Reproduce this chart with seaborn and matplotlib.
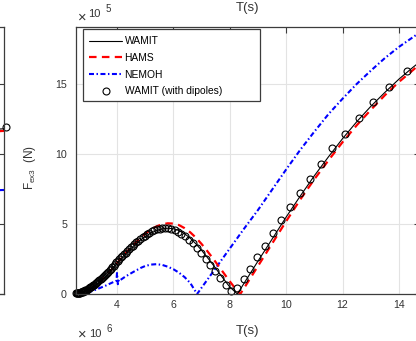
import numpy as np
import pandas as pd
import matplotlib
matplotlib.use("Agg")
import matplotlib.pyplot as plt
import seaborn as sns
from matplotlib.lines import Line2D
from matplotlib.patches import Rectangle

# ---------------- data (force in units of 1e5 N, period T in s) ----------------
T_wamit = [2.55, 2.7, 2.85, 3.0, 3.2, 3.4, 3.6, 3.8, 4.0, 4.2, 4.4, 4.6, 4.8, 5.0, 5.2, 5.4, 5.6, 5.8,
           6.0, 6.2, 6.4, 6.6, 6.8, 7.0, 7.2, 7.4, 7.6, 7.8, 8.0, 8.27, 8.5, 8.75, 9.0, 9.5, 10.0,
           10.5, 11.0, 11.5, 12.0, 12.5, 13.0, 13.5, 14.0, 14.5, 14.75]
F_wamit = [0.02, 0.06, 0.15, 0.3, 0.55, 0.87, 1.25, 1.7, 2.2, 2.65, 3.05, 3.45, 3.8, 4.1, 4.35, 4.53, 4.65, 4.7,
           4.66, 4.53, 4.3, 3.98, 3.58, 3.12, 2.62, 2.1, 1.56, 1.02, 0.5, 0.0, 0.75, 1.55, 2.35, 3.92, 5.5,
           7.0, 8.45, 9.8, 11.1, 12.3, 13.4, 14.4, 15.35, 16.2, 16.6]

T_hams = [2.55, 2.7, 2.85, 3.0, 3.2, 3.4, 3.6, 3.8, 4.0, 4.2, 4.4, 4.6, 4.8, 5.0, 5.2, 5.4, 5.6, 5.8,
          6.0, 6.2, 6.4, 6.6, 6.8, 7.0, 7.2, 7.4, 7.6, 7.8, 8.0, 8.2, 8.37, 8.5, 8.75, 9.0, 9.5, 10.0,
          10.5, 11.0, 11.5, 12.0, 12.5, 13.0, 13.5, 14.0, 14.5, 14.75]
F_hams = [0.02, 0.06, 0.15, 0.3, 0.55, 0.88, 1.27, 1.73, 2.2, 2.68, 3.12, 3.55, 3.95, 4.3, 4.6, 4.83, 4.98, 5.05,
          5.03, 4.92, 4.7, 4.4, 4.02, 3.57, 3.07, 2.55, 2.0, 1.45, 0.9, 0.38, 0.0, 0.4, 1.2, 2.0, 3.6, 5.2,
          6.75, 8.2, 9.55, 10.85, 12.05, 13.15, 14.2, 15.15, 16.0, 16.45]

T_nemoh = [2.55, 2.8, 3.0, 3.3, 3.6, 3.9, 3.98, 4.0, 4.03, 4.07, 4.12, 4.3, 4.6, 4.85, 5.0, 5.2, 5.4, 5.6,
           5.8, 6.0, 6.2, 6.4, 6.6, 6.84, 7.0, 7.5, 8.0, 8.5, 9.0, 9.5, 10.0, 10.5, 11.0, 11.5, 12.0,
           12.5, 13.0, 13.5, 14.0, 14.5, 14.75]
F_nemoh = [0.0, 0.03, 0.12, 0.35, 0.6, 0.88, 0.95, 1.5, 0.7, 1.05, 1.0, 1.25, 1.6, 1.87, 2.0, 2.1, 2.13, 2.08,
           1.95, 1.77, 1.52, 1.2, 0.78, 0.0, 0.45, 1.85, 3.25, 4.65, 6.0, 7.45, 8.9, 10.3, 11.6, 12.85, 13.95,
           15.0, 15.95, 16.85, 17.65, 18.35, 18.7]

T_dip = [14.280, 13.659, 13.090, 12.566, 12.083, 11.636, 11.220, 10.833, 10.472, 10.134, 9.817, 9.520,
         9.240, 8.976, 8.727, 8.491, 8.267, 8.055, 7.854, 7.662, 7.480, 7.306, 7.140, 6.981, 6.830, 6.684,
         6.545, 6.411, 6.283, 6.160, 6.042, 5.928, 5.818, 5.712, 5.610, 5.512, 5.417, 5.325, 5.236, 5.150,
         5.067, 4.987, 4.909, 4.833, 4.760, 4.689, 4.620, 4.553, 4.488, 4.425, 4.363, 4.303, 4.245, 4.189,
         4.134, 4.080, 4.028, 3.977, 3.927, 3.879, 3.831, 3.785, 3.740, 3.696, 3.653, 3.611, 3.570, 3.530,
         3.491, 3.452, 3.415, 3.378, 3.342, 3.307, 3.272, 3.239, 3.206, 3.173, 3.142, 3.111, 3.080, 3.050,
         3.021, 2.992, 2.964, 2.936, 2.909, 2.882, 2.856, 2.830, 2.805, 2.780, 2.756, 2.732, 2.708, 2.685,
         2.662, 2.640, 2.618, 2.596, 2.575, 2.554]
F_dip = [15.95, 14.8, 13.7, 12.6, 11.45, 10.4, 9.3, 8.2, 7.2, 6.2, 5.25, 4.33,
         3.45, 2.62, 1.82, 1.04, 0.4, 0.2, 0.62, 1.12, 1.61, 2.08, 2.52, 2.92, 3.28, 3.61,
         3.89, 4.12, 4.32, 4.46, 4.57, 4.63, 4.68, 4.70, 4.69, 4.66, 4.62, 4.56, 4.48, 4.39,
         4.28, 4.17, 4.05, 3.93, 3.81, 3.69, 3.57, 3.45, 3.33, 3.20, 3.08, 2.96, 2.85, 2.74,
         2.62, 2.50, 2.38, 2.26, 2.14, 2.02, 1.91, 1.80, 1.70, 1.60, 1.50, 1.41, 1.33, 1.25,
         1.18, 1.11, 1.04, 0.98, 0.92, 0.86, 0.80, 0.75, 0.70, 0.65, 0.61, 0.57, 0.53, 0.49,
         0.45, 0.41, 0.36, 0.32, 0.29, 0.26, 0.23, 0.20, 0.18, 0.16, 0.14, 0.125, 0.11, 0.095,
         0.085, 0.075, 0.065, 0.06, 0.055, 0.05]

# right end of the neighbouring (left) panel
T_left = [14.3, 14.745]
F_left_wamit = [11.75, 11.8]
F_left_hams = [11.6, 11.65]
F_left_nemoh = [7.4, 7.43]
T_left_dip = [14.8]
F_left_dip = [11.9]

series_labels = ["WAMIT", "HAMS", "NEMOH", "WAMIT (with dipoles)"]
x_ticks = [4, 6, 8, 10, 12, 14]
y_ticks = [0, 5, 10, 15]

# ---------------- style ----------------
sns.set_theme(style="white")
plt.rcParams["font.family"] = ["Liberation Sans", "DejaVu Sans"]
plt.rcParams["mathtext.fontset"] = "custom"
plt.rcParams["mathtext.rm"] = "Liberation Sans"
plt.rcParams["mathtext.it"] = "Liberation Sans"

W, H = 416, 341
fig = plt.figure(figsize=(W / 100, H / 100), dpi=100)
fig.patch.set_facecolor("white")

def fx(px):
    return px / W

def fy(py):
    return 1 - py / H

ax = fig.add_axes([fx(76), fy(294), fx(344), (294 - 27) / H])
axl = fig.add_axes([fx(4 - 344), fy(294), fx(344), (294 - 27) / H])

TXT = "#333333"
SPINE = "#3c3c3c"
GRID = "#e3e3e3"

def style_axes(a):
    a.set_xlim(2.546, 14.745)
    a.set_ylim(0, 19.07)
    a.set_xticks(x_ticks)
    a.set_yticks(y_ticks)
    a.grid(True, color=GRID, linewidth=0.8)
    a.set_axisbelow(True)
    for s in a.spines.values():
        s.set_color(SPINE)
        s.set_linewidth(0.9)
        s.set_visible(True)
    a.tick_params(direction="in", top=True, right=True, length=4, width=0.8,
                  color=SPINE, labelcolor=TXT, labelsize=7.7)
    a.tick_params(axis="x", pad=4.5)
    a.tick_params(axis="y", pad=6.5)
    a.set_xlabel("")
    a.set_ylabel("")

# main panel
df_n = pd.DataFrame({"T": T_nemoh, "F": F_nemoh})
df_h = pd.DataFrame({"T": T_hams, "F": F_hams})
df_w = pd.DataFrame({"T": T_wamit, "F": F_wamit})
df_d = pd.DataFrame({"T": T_dip, "F": F_dip})

sns.lineplot(data=df_n, x="T", y="F", ax=ax, color="#0000ff", linewidth=1.5,
             linestyle="-.", estimator=None, legend=False)
ax.lines[-1].set_dashes((2.4, 1.2, 0.7, 1.2))
sns.lineplot(data=df_h, x="T", y="F", ax=ax, color="#ff0000", linewidth=1.6,
             linestyle="--", estimator=None, legend=False)
ax.lines[-1].set_dashes((3.4, 2.4))
sns.lineplot(data=df_w, x="T", y="F", ax=ax, color="black", linewidth=0.8,
             estimator=None, legend=False)
sns.lineplot(data=df_d, x="T", y="F", ax=ax, color="black", linestyle="", marker="o",
             markersize=5, markerfacecolor="none", markeredgecolor="black",
             markeredgewidth=0.8, estimator=None, sort=False, legend=False)
ax.lines[-1].set_clip_on(False)
style_axes(ax)

# left neighbour panel (only its right edge is visible)
sns.lineplot(x=T_left, y=F_left_nemoh, ax=axl, color="#0000ff", linewidth=1.5, legend=False)
sns.lineplot(x=T_left, y=F_left_wamit, ax=axl, color="black", linewidth=0.8, legend=False)
sns.lineplot(x=T_left, y=F_left_hams, ax=axl, color="#ff0000", linewidth=1.6, legend=False)
sns.lineplot(x=T_left_dip, y=F_left_dip, ax=axl, color="black", linestyle="", marker="o",
             markersize=5, markerfacecolor="none", markeredgecolor="black",
             markeredgewidth=0.8, legend=False)
axl.lines[-1].set_clip_on(False)
style_axes(axl)
axl.set_xticklabels([])
axl.set_yticklabels([])

# legend: frame drawn as a box, entries on top of it
frame = Rectangle((fx(83), fy(101)), fx(260 - 83), (101 - 29) / H,
                  transform=fig.transFigure, facecolor="white",
                  edgecolor=SPINE, linewidth=0.9, zorder=5, clip_on=False)
ax.add_artist(frame)
handles = [
    Line2D([], [], color="black", linewidth=0.8),
    Line2D([], [], color="#ff0000", linewidth=1.6, dashes=(3.4, 2.4)),
    Line2D([], [], color="#0000ff", linewidth=1.5, dashes=(2.4, 1.2, 0.7, 1.2)),
    Line2D([], [], color="black", linestyle="", marker="o", markersize=5,
           markerfacecolor="none", markeredgewidth=0.8),
]
fs_leg = 7.4
leg = ax.legend(handles, series_labels, loc="upper left",
                bbox_to_anchor=(fx(89), fy(36.5)), bbox_transform=fig.transFigure,
                frameon=False, borderpad=0, borderaxespad=0,
                handlelength=33 / (fs_leg * 100 / 72), handletextpad=0.25,
                labelspacing=0.64, fontsize=fs_leg, numpoints=1)
leg.set_zorder(6)
for t in leg.get_texts():
    t.set_color("black")

# texts
fig.text(fx(30), fy(167), r"F$_{\mathrm{ex3}}$  (N)", rotation=90, ha="center",
         va="center", fontsize=8.5, color=TXT)
fig.text(fx(248), fy(331), "T(s)", ha="center", va="center", fontsize=9.5, color=TXT)
fig.text(fx(248), fy(8), "T(s)", ha="center", va="center", fontsize=9.5, color=TXT)
# exponent labels
fig.text(fx(82), fy(18), "\u00d7", ha="center", va="center", fontsize=10.5, color=TXT)
fig.text(fx(94), fy(14), "10", ha="center", va="center", fontsize=8, color=TXT)
fig.text(fx(108), fy(9), "5", ha="center", va="center", fontsize=7, color=TXT)
fig.text(fx(82), fy(335), "\u00d7", ha="center", va="center", fontsize=10.5, color=TXT)
fig.text(fx(95), fy(334), "10", ha="center", va="center", fontsize=8, color=TXT)
fig.text(fx(109), fy(329), "6", ha="center", va="center", fontsize=7, color=TXT)

fig.savefig("out.png", dpi=100, facecolor="white")
